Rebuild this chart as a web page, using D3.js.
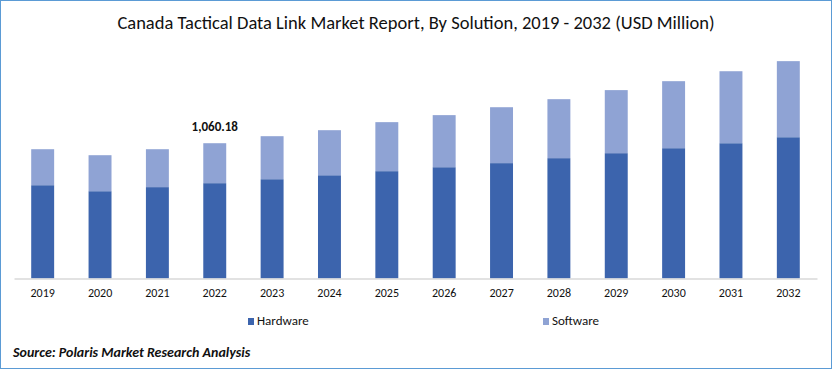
<!DOCTYPE html>
<html>

<head>
    <meta charset=utf-8 />
    <script src="https://cdn.jsdelivr.net/npm/d3@7"></script>
    <title>Canada Tactical Data Link Market</title>
    <style>
        html,
        body {
            margin: 0;
            padding: 0;
            background: white;
        }

        svg {
            display: block;
            font-family: Carlito, 'Liberation Sans Narrow', 'Open Sans', sans-serif;
        }
    </style>
</head>

<body>
    <svg width="832" height="370"></svg>
    <script>
        var years = ['2019', '2020', '2021', '2022', '2023', '2024', '2025', '2026', '2027', '2028', '2029', '2030', '2031', '2032'];
        var hardware = [731, 684, 716, 747, 778, 809, 841, 872, 904, 943, 982, 1021, 1060, 1107];
        var software = [282, 282, 297, 313, 337, 353, 384, 408, 438, 462, 494, 525, 564, 596];
        var seriesNames = ['Hardware', 'Software'];
        var colors = ['#3c64ad', '#8fa3d4'];
        var annotation = { year: '2022', label: '1,060.18' };

        var svg = d3.select('svg');

        // outer frame
        svg.append('rect')
            .attr('x', 0.5).attr('y', 0.5)
            .attr('width', 831).attr('height', 368)
            .attr('fill', 'white')
            .attr('stroke', '#5b9bd5')
            .attr('stroke-width', 1);

        svg.append('text')
            .attr('x', 416).attr('y', 29)
            .attr('text-anchor', 'middle')
            .attr('font-size', 18.5)
            .attr('fill', '#111')
            .text('Canada Tactical Data Link Market Report, By Solution, 2019 - 2032 (USD Million)');

        var x = d3.scaleBand()
            .domain(years)
            .range([14, 817])
            .paddingInner(0.6)
            .paddingOuter(0.3);

        var y = d3.scaleLinear()
            .domain([0, 1900])
            .range([278.5, 36]);

        var table = years.map(function (yr, i) {
            return { year: yr, Hardware: hardware[i], Software: software[i] };
        });

        var stacked = d3.stack().keys(seriesNames)(table);

        svg.append('g')
            .selectAll('g')
            .data(stacked)
            .enter().append('g')
            .attr('fill', function (d, i) {
                return colors[i];
            })
            .selectAll('rect')
            .data(function (d) {
                return d;
            })
            .enter().append('rect')
            .attr('x', function (d) {
                return x(d.data.year);
            })
            .attr('width', x.bandwidth())
            .attr('y', function (d) {
                return y(d[1]);
            })
            .attr('height', function (d) {
                return y(d[0]) - y(d[1]);
            });

        var xAxis = svg.append('g')
            .attr('transform', 'translate(0,' + y(0) + ')')
            .call(d3.axisBottom(x).tickSize(0).tickPadding(10));
        xAxis.select('.domain').attr('stroke', '#d9d9d9').attr('stroke-width', 1.5);
        xAxis.selectAll('text')
            .attr('font-family', "Carlito, 'Liberation Sans Narrow', 'Open Sans', sans-serif")
            .attr('font-size', 12)
            .attr('fill', '#111');

        // total label on one bar
        var ai = years.indexOf(annotation.year);
        svg.append('text')
            .attr('x', x(annotation.year) + x.bandwidth() / 2)
            .attr('y', y(hardware[ai] + software[ai]) - 12)
            .attr('text-anchor', 'middle')
            .attr('font-size', 13)
            .attr('font-weight', 'bold')
            .attr('fill', '#111')
            .text(annotation.label);

        // legend
        var legendX = [248, 543];
        var legend = svg.append('g')
            .selectAll('g')
            .data(seriesNames)
            .enter().append('g')
            .attr('transform', function (d, i) {
                return 'translate(' + legendX[i] + ',318)';
            });
        legend.append('rect')
            .attr('width', 6).attr('height', 7)
            .attr('fill', function (d, i) {
                return colors[i];
            });
        legend.append('text')
            .attr('x', 9).attr('y', 7)
            .attr('font-size', 13)
            .attr('fill', '#111')
            .text(function (d) {
                return d;
            });

        svg.append('text')
            .attr('x', 13).attr('y', 357)
            .attr('font-size', 14)
            .attr('font-weight', 'bold')
            .attr('font-style', 'italic')
            .attr('fill', '#111')
            .text('Source: Polaris  Market Research Analysis');
    </script>
</body>

</html>
